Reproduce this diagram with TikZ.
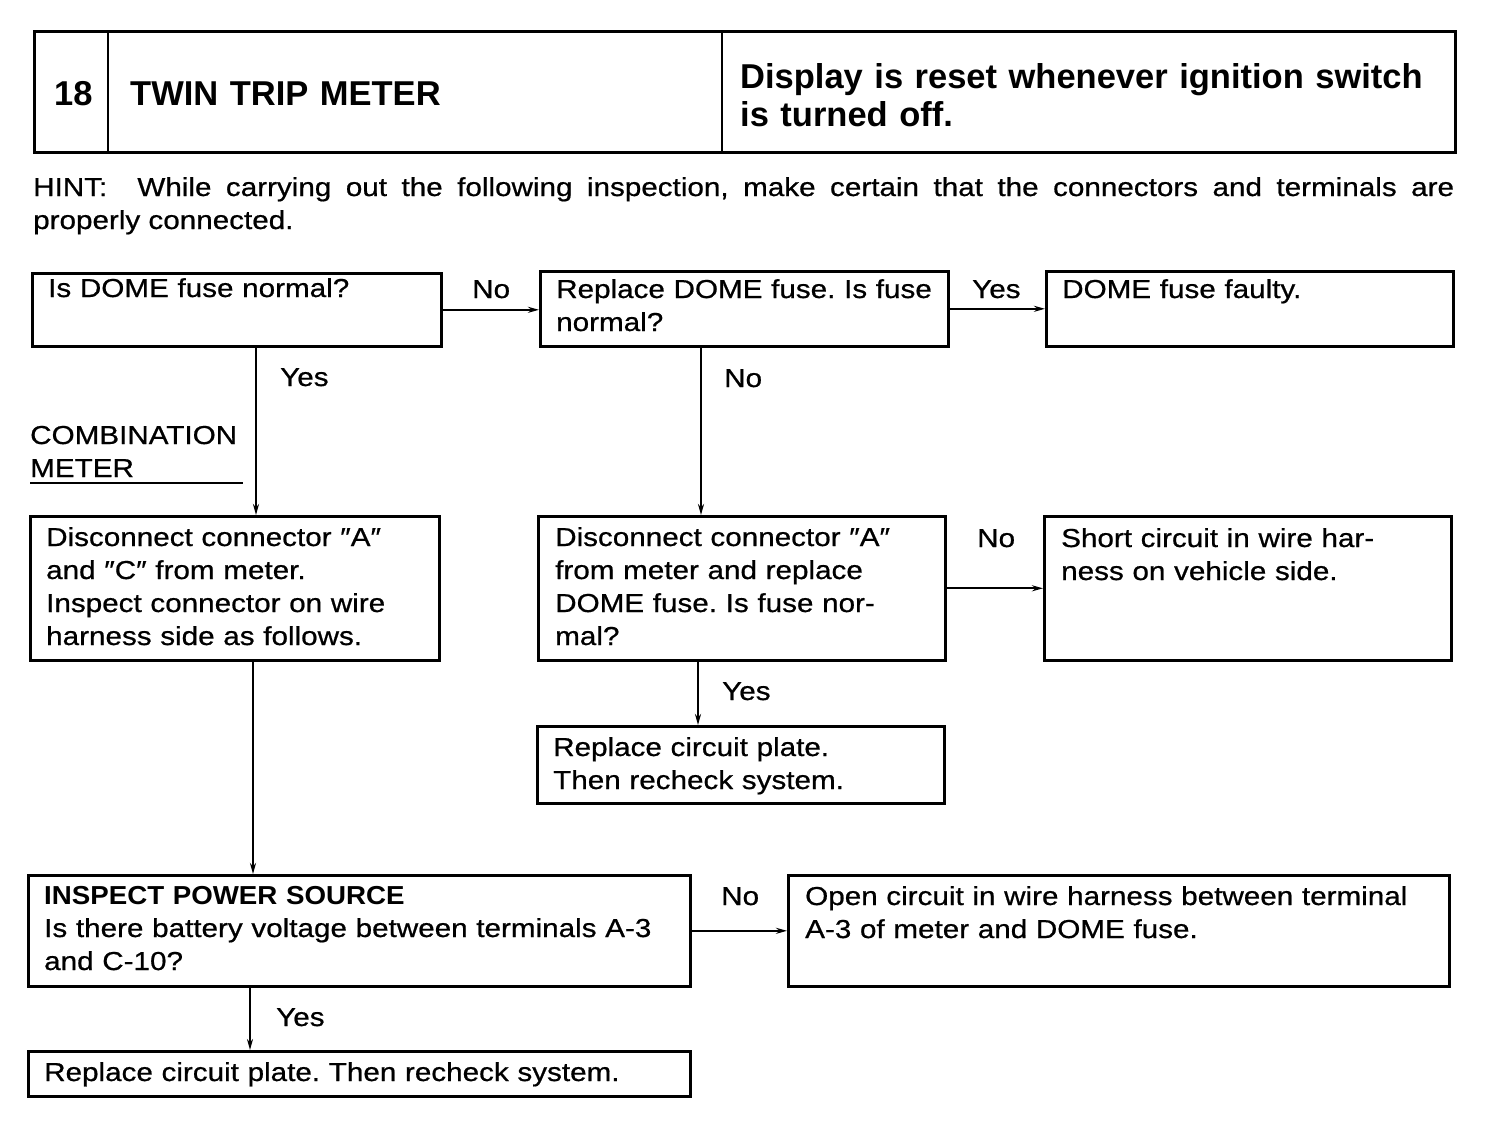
\documentclass[tikz,border=0pt]{standalone}
\usepackage{fontspec}
\setmainfont{Liberation Sans}[FakeStretch=1.14,FakeBold=0.7]
\newfontfamily\hdrfont{Liberation Sans}
\newfontfamily\bbfont{Liberation Sans}[FakeStretch=1.065]
\usetikzlibrary{arrows.meta}
\frenchspacing
\begin{document}
\begin{tikzpicture}[x=1pt,y=-1pt,
 box/.style={draw, line width=2.6pt, inner sep=0pt, anchor=north west},
 txt/.style={inner sep=0pt, anchor=base west, text width=#1, align=left, font=\fontsize{26}{33}\selectfont},
 txt/.default=660pt,
 lbl/.style={inner sep=0pt, anchor=base west, font=\fontsize{26}{33}\selectfont},
 hdtxt/.style={inner sep=0pt, anchor=base west, text width=720pt, align=left, font=\hdrfont\bfseries\fontsize{34.5}{38}\selectfont},
 arr/.style={line width=2.2pt, -{Stealth[length=11pt,width=6pt]}},
 ln/.style={line width=2.2pt},
]
\useasboundingbox[fill=white] (0,0) rectangle (1504,1120);

% header
\node[box, minimum width=1421pt, minimum height=121pt] (hd) at (33,30) {};
\coordinate (d1) at (108,0);
\coordinate (d2) at (722,0);
\draw[line width=2.6pt] (hd.north -| d1) -- (hd.south -| d1);
\draw[line width=2.6pt] (hd.north -| d2) -- (hd.south -| d2);
\node[hdtxt] (num) at (54,105) {18};
\node[hdtxt] (title) at (130,105) {TWIN TRIP METER};
\node[hdtxt] (desc) at (740,88) {Display is reset whenever ignition switch\\is turned off.};

% hint
\node[txt=1421pt, align=justify] (hint) at (33,196) {HINT:\hspace{0.6em} While carrying out the following inspection, make certain that the connectors and terminals are\linebreak properly connected.};

% boxes
\node[box, minimum width=409pt, minimum height=73pt] (b1) at (31,272) {};
\node[box, minimum width=408pt, minimum height=75pt] (b2) at (539,270) {};
\node[box, minimum width=407pt, minimum height=75pt] (b3) at (1045,270) {};
\node[box, minimum width=409pt, minimum height=144pt] (b4) at (29,515) {};
\node[box, minimum width=407pt, minimum height=144pt] (b5) at (537,515) {};
\node[box, minimum width=407pt, minimum height=144pt] (b6) at (1043,515) {};
\node[box, minimum width=407pt, minimum height=77pt] (b7) at (536,725) {};
\node[box, minimum width=662pt, minimum height=111pt] (b8) at (27,874) {};
\node[box, minimum width=661pt, minimum height=111pt] (b9) at (787,874) {};
\node[box, minimum width=662pt, minimum height=45pt] (b10) at (27,1050) {};

% box texts
\node[txt] (b1t) at (48,297) {Is DOME fuse normal?};
\node[txt] (b2t) at (556,298) {Replace DOME fuse. Is fuse\\normal?};
\node[txt] (b3t) at (1062,298) {DOME fuse faulty.};
\node[txt] (b4t) at (46,546) {Disconnect connector ″A″\\and ″C″ from meter.\\Inspect connector on wire\\harness side as follows.};
\node[txt] (b5t) at (555,546) {Disconnect connector ″A″\\from meter and replace\\DOME fuse. Is fuse nor-\\mal?};
\node[txt] (b6t) at (1061,547) {Short circuit in wire har-\\ness on vehicle side.};
\node[txt] (b7t) at (553,756) {Replace circuit plate.\\Then recheck system.};
\node[txt] (b8t) at (44,904) {{\bbfont\bfseries INSPECT POWER SOURCE}\\Is there battery voltage between terminals A-3\\and C-10?};
\node[txt] (b9t) at (805,905) {Open circuit in wire harness between terminal\\A-3 of meter and DOME fuse.};
\node[txt] (b10t) at (44,1081) {Replace circuit plate. Then recheck system.};

% side label
\node[txt=300pt] (comb) at (30,444) {COMBINATION\\METER};
\coordinate (u1) at (30,483);
\coordinate (u2) at (243,483);
\draw[ln] (u1) -- (u2);

% connectors
\coordinate (c1) at (256,0);
\coordinate (c2) at (701,0);
\coordinate (c3) at (698,0);
\coordinate (c4) at (253,0);
\coordinate (c5) at (250,0);
\draw[arr] (b1.east) -- (b1.east -| b2.west);
\draw[arr] (b2.east) -- (b2.east -| b3.west);
\draw[arr] (b1.south -| c1) -- (b4.north -| c1);
\draw[arr] (b2.south -| c2) -- (b5.north -| c2);
\draw[arr] (b5.east) -- (b5.east -| b6.west);
\draw[arr] (b5.south -| c3) -- (b7.north -| c3);
\draw[arr] (b4.south -| c4) -- (b8.north -| c4);
\draw[arr] (b8.east) -- (b8.east -| b9.west);
\draw[arr] (b8.south -| c5) -- (b10.north -| c5);

% connector labels
\node[lbl] (l1) at (472,298) {No};
\node[lbl] (l2) at (972,298) {Yes};
\node[lbl] (l3) at (280,386) {Yes};
\node[lbl] (l4) at (724,387) {No};
\node[lbl] (l5) at (977,547) {No};
\node[lbl] (l6) at (722,700) {Yes};
\node[lbl] (l7) at (721,905) {No};
\node[lbl] (l8) at (276,1026) {Yes};
\end{tikzpicture}
\end{document}
